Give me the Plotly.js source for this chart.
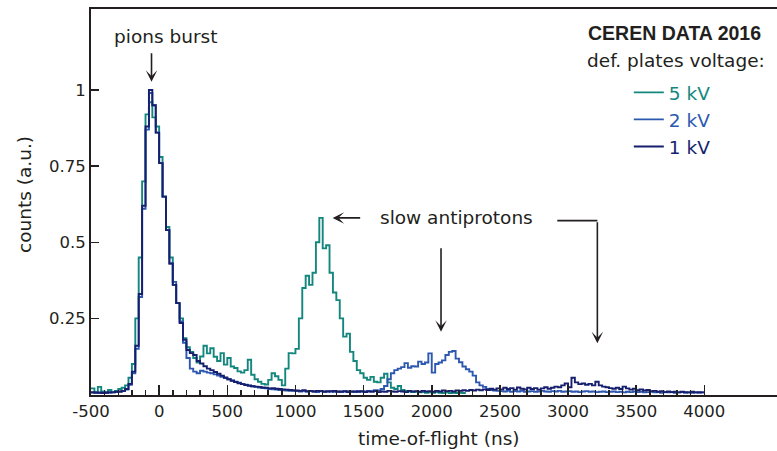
<!DOCTYPE html>
<html>
<head>
<meta charset="utf-8">
<script src="https://cdn.plot.ly/plotly-3.0.1.min.js"></script>
<style>
  html, body { margin: 0; padding: 0; background: #ffffff; }
  #chart { width: 777px; height: 451px; }
</style>
</head>
<body>
<div id="chart"></div>
<script>
// Time-of-flight histograms, 25 ns bins starting at -500 ns
const binStart = -500;
const binWidth = 25;

// 5 kV deflection plates (bins from -500 to 2250 ns)
const kv5 = [
  0.020,0.008,0.025,0.010,0.006,0.015,0.008,0.012,0.018,0.022,
  0.030,0.055,0.100,0.250,0.450,0.700,0.920,0.960,0.910,0.880,
  0.780,0.650,0.550,0.450,0.360,0.300,0.250,0.185,0.155,0.140,
  0.120,0.105,0.125,0.160,0.135,0.152,0.124,0.110,0.136,0.098,
  0.120,0.092,0.087,0.076,0.072,0.080,0.114,0.065,0.050,0.042,
  0.035,0.033,0.048,0.070,0.060,0.048,0.030,0.085,0.136,0.135,
  0.150,0.250,0.350,0.390,0.360,0.400,0.500,0.580,0.480,0.490,
  0.400,0.335,0.310,0.250,0.190,0.200,0.140,0.110,0.080,0.070,
  0.055,0.048,0.058,0.042,0.040,0.055,0.068,0.040,0.022,0.018,
  0.028,0.015,0.012,0.010,0.008,0.009,0.007,0.008,0.006,0.007,
  0.006,0.008,0.006,0.005,0.007,0.005,0.006,0.005,0.006,0.005
];

// 2 kV deflection plates (bins from -500 to 4000 ns)
const kv2 = [
  0.006,0.007,0.005,0.006,0.008,0.006,0.007,0.008,0.009,0.011,
  0.016,0.032,0.070,0.150,0.320,0.610,0.870,0.990,0.950,0.860,
  0.760,0.650,0.540,0.430,0.370,0.300,0.240,0.170,0.120,0.085,
  0.075,0.070,0.078,0.075,0.072,0.070,0.066,0.062,0.058,0.054,
  0.050,0.046,0.042,0.039,0.035,0.032,0.030,0.027,0.025,0.023,
  0.021,0.020,0.018,0.017,0.016,0.015,0.014,0.013,0.012,0.012,
  0.011,0.010,0.012,0.009,0.011,0.010,0.008,0.011,0.010,0.009,
  0.011,0.009,0.010,0.008,0.010,0.011,0.009,0.010,0.008,0.011,
  0.010,0.012,0.011,0.014,0.013,0.018,0.028,0.050,0.070,0.080,
  0.085,0.090,0.103,0.088,0.093,0.092,0.108,0.100,0.105,0.135,
  0.072,0.100,0.105,0.112,0.130,0.140,0.143,0.118,0.106,0.092,
  0.083,0.075,0.062,0.040,0.030,0.025,0.018,0.015,0.013,0.012,
  0.011,0.010,0.012,0.009,0.011,0.010,0.012,0.009,0.010,0.011,
  0.009,0.010,0.012,0.010,0.009,0.011,0.010,0.012,0.009,0.010,
  0.011,0.009,0.010,0.008,0.010,0.011,0.009,0.010,0.008,0.009,
  0.010,0.008,0.009,0.010,0.008,0.009,0.007,0.009,0.008,0.010,
  0.008,0.009,0.007,0.008,0.009,0.007,0.008,0.006,0.008,0.007,
  0.008,0.006,0.007,0.008,0.006,0.007,0.006,0.007,0.006,0.007
];

// 1 kV deflection plates (bins from -500 to 4000 ns)
const kv1 = [
  0.008,0.006,0.007,0.005,0.006,0.008,0.007,0.009,0.010,0.012,
  0.018,0.035,0.075,0.160,0.330,0.620,0.880,1.000,0.950,0.860,
  0.760,0.650,0.540,0.430,0.360,0.300,0.235,0.180,0.146,0.136,
  0.130,0.110,0.102,0.093,0.085,0.080,0.074,0.068,0.062,0.056,
  0.050,0.045,0.041,0.037,0.034,0.031,0.029,0.027,0.026,0.025,
  0.023,0.022,0.020,0.021,0.019,0.018,0.017,0.016,0.015,0.014,
  0.013,0.012,0.014,0.011,0.012,0.010,0.012,0.011,0.009,0.011,
  0.010,0.012,0.009,0.010,0.011,0.008,0.010,0.009,0.011,0.010,
  0.008,0.010,0.009,0.011,0.008,0.010,0.009,0.012,0.010,0.009,
  0.011,0.010,0.008,0.012,0.010,0.011,0.009,0.012,0.010,0.011,
  0.009,0.012,0.010,0.013,0.011,0.012,0.010,0.013,0.012,0.014,
  0.012,0.015,0.013,0.016,0.014,0.017,0.015,0.019,0.016,0.020,
  0.017,0.022,0.018,0.021,0.016,0.023,0.019,0.017,0.022,0.018,
  0.021,0.016,0.020,0.024,0.019,0.022,0.026,0.024,0.030,0.036,
  0.024,0.055,0.040,0.034,0.036,0.032,0.035,0.030,0.042,0.030,
  0.026,0.024,0.021,0.019,0.022,0.018,0.026,0.020,0.016,0.019,
  0.014,0.017,0.013,0.015,0.011,0.012,0.009,0.011,0.008,0.010,
  0.008,0.009,0.007,0.009,0.008,0.007,0.009,0.007,0.008,0.007
];

const seriesNames = ['5 kV', '2 kV', '1 kV'];
const seriesColors = ['#13877e', '#2d58b0', '#161f6d'];

const xTickVals = [-500, 0, 500, 1000, 1500, 2000, 2500, 3000, 3500, 4000];
const xTickText = ['-500', '0', '500', '1000', '1500', '2000', '2500', '3000', '3500', '4000'];
const yTickVals = [0.25, 0.5, 0.75, 1];
const yTickText = ['0.25', '0.5', '0.75', '1'];

const ink = '#231f20';
const textFont = 'DejaVu Sans, sans-serif';
const boldFont = 'Liberation Sans, Arial, sans-serif';

// Step histogram: one edge per bin plus the closing edge
function stepTrace(values, name, color) {
  const x = [], y = [];
  values.forEach((v, i) => { x.push(binStart + i * binWidth); y.push(v); });
  x.push(binStart + values.length * binWidth);
  y.push(values[values.length - 1]);
  return {
    type: 'scatter', mode: 'lines', x: x, y: y,
    line: { shape: 'hv', color: color, width: 1.9 },
    name: '<span style="color:' + color + '">' + name + '</span>',
    hoverinfo: 'skip'
  };
}

const traces = [
  stepTrace(kv5, seriesNames[0], seriesColors[0]),
  stepTrace(kv2, seriesNames[1], seriesColors[1]),
  stepTrace(kv1, seriesNames[2], seriesColors[2])
];

// Minor ticks every 100 ns between the labelled ones
const minorVals = [];
for (let t = -400; t < 4000; t += 100) { if (t % 500 !== 0) minorVals.push(t); }

const arrowStyle = { showarrow: true, arrowhead: 3, arrowsize: 1.2, arrowwidth: 1.6,
                     arrowcolor: ink, standoff: 0, text: '' };

function label(text, x, y, extra) {
  return Object.assign({ xref: 'paper', yref: 'paper', x: x, y: y, text: text,
    showarrow: false, xanchor: 'center', yanchor: 'middle',
    font: { family: textFont, size: 18.5, color: ink } }, extra || {});
}

const layout = {
  width: 777, height: 451,
  margin: { l: 91, r: 0, t: 9, b: 56, pad: 0 },
  paper_bgcolor: '#ffffff', plot_bgcolor: '#ffffff',
  font: { family: textFont, size: 18.5, color: ink },
  showlegend: true,
  legend: {
    x: 0.784, y: 0.832, xanchor: 'left', yanchor: 'top',
    bgcolor: 'rgba(0,0,0,0)', borderwidth: 0,
    font: { family: textFont, size: 18.5, color: ink },
    itemclick: false, itemdoubleclick: false
  },
  xaxis: {
    range: [-500, 4533], showgrid: false, zeroline: false,
    showline: true, mirror: true, linecolor: ink, linewidth: 2,
    ticks: 'inside', ticklen: 10, tickwidth: 1.5, tickcolor: ink,
    tickmode: 'array', tickvals: xTickVals, ticktext: xTickText,
    tickfont: { family: textFont, size: 16.5, color: ink },
    minor: { tickmode: 'array', tickvals: minorVals, ticks: 'inside',
             ticklen: 5, tickwidth: 1.5, tickcolor: ink, showgrid: false }
  },
  yaxis: {
    range: [-0.0016, 1.266], showgrid: false, zeroline: false,
    showline: true, linecolor: ink, linewidth: 2,
    ticks: 'inside', ticklen: 8, tickwidth: 1.5, tickcolor: ink,
    tickmode: 'array', tickvals: yTickVals, ticktext: yTickText,
    tickfont: { family: textFont, size: 16.5, color: ink }
  },
  shapes: [
    // horizontal leg of the bent arrow to the 1 kV bump
    { type: 'line', xref: 'x', yref: 'y', x0: 2921, x1: 3215, y0: 0.571, y1: 0.571,
      line: { color: ink, width: 1.6 } }
  ],
  annotations: [
    label('time-of-flight (ns)', 0.5073, -0.1114),
    label('counts (a.u.)', -0.0977, 0.5207, { textangle: -90 }),

    { xref: 'x', yref: 'y', x: 43, y: 1.175, showarrow: false, yanchor: 'middle',
      text: 'pions burst', font: { family: textFont, size: 18.5, color: ink } },
    Object.assign({ xref: 'x', yref: 'y', x: -56, y: 1.027, ax: 0, ay: -30 }, arrowStyle),

    { xref: 'x', yref: 'y', x: 2181, y: 0.58, showarrow: false, yanchor: 'middle',
      text: 'slow antiprotons', font: { family: textFont, size: 18.5, color: ink } },
    Object.assign({ xref: 'x', yref: 'y', x: 1273, y: 0.58, ax: 29, ay: 0 }, arrowStyle),
    Object.assign({ xref: 'x', yref: 'y', x: 2068, y: 0.206, ax: 0, ay: -85 }, arrowStyle),
    Object.assign({ xref: 'x', yref: 'y', x: 3215, y: 0.168, ax: 0, ay: -122.6 }, arrowStyle),

    label('<b>CEREN DATA 2016</b>', 0.7216, 0.9378,
          { xanchor: 'left', font: { family: boldFont, size: 19.5, color: ink } }),
    label('def. plates voltage:', 0.7201, 0.8653, { xanchor: 'left' })
  ]
};

Plotly.newPlot('chart', traces, layout, { displayModeBar: false, staticPlot: true });
</script>
</body>
</html>
